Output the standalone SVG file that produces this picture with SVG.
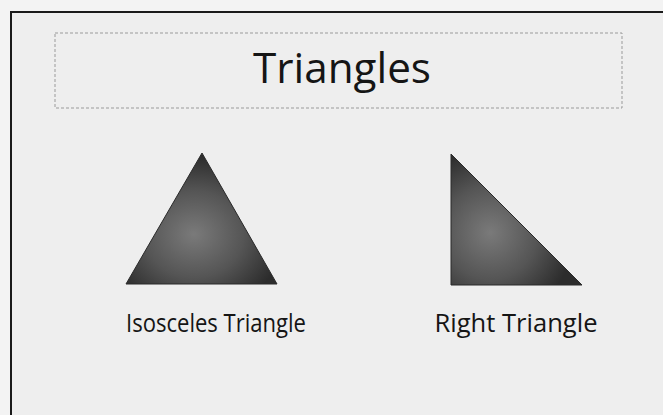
<svg xmlns="http://www.w3.org/2000/svg" width="663" height="415" viewBox="0 0 663 415">
  <style>
    .lbl { font-family: "Open Sans", "Liberation Sans", sans-serif; fill: #151515; }
    .tri { stroke: #2a2a2a; stroke-width: 1; }
  </style>
  <defs>
    <radialGradient id="g1" cx="0.45" cy="0.62" r="0.6">
      <stop offset="0" stop-color="#7a7a7a"/>
      <stop offset="0.55" stop-color="#555555"/>
      <stop offset="1" stop-color="#2c2c2c"/>
    </radialGradient>
    <radialGradient id="g2" cx="0.3" cy="0.6" r="0.65">
      <stop offset="0" stop-color="#7a7a7a"/>
      <stop offset="0.55" stop-color="#555555"/>
      <stop offset="1" stop-color="#2c2c2c"/>
    </radialGradient>
  </defs>
  <rect x="0" y="0" width="663" height="415" fill="#f3f3f3"/>
  <rect x="11" y="12" width="652" height="403" fill="#eeeeee"/>
  <path d="M11,415 V12 H663" fill="none" stroke="#1a1a1a" stroke-width="2"/>
  <g id="title">
    <rect x="55" y="33" width="567" height="75" fill="none" stroke="#9a9a9a" stroke-width="1" stroke-dasharray="3,2"/>
    <text class="lbl" x="342" y="83" font-size="42" text-anchor="middle" textLength="178" lengthAdjust="spacingAndGlyphs">Triangles</text>
  </g>
  <g id="isosceles">
    <polygon class="tri" points="202,153 126,284 277,284" fill="url(#g1)"/>
    <text class="lbl" x="216" y="332" font-size="25" text-anchor="middle" textLength="180" lengthAdjust="spacingAndGlyphs">Isosceles Triangle</text>
  </g>
  <g id="right">
    <polygon class="tri" points="451,154 451,285 582,285" fill="url(#g2)"/>
    <text class="lbl" x="516" y="332" font-size="25" text-anchor="middle" textLength="163" lengthAdjust="spacingAndGlyphs">Right Triangle</text>
  </g>
</svg>
